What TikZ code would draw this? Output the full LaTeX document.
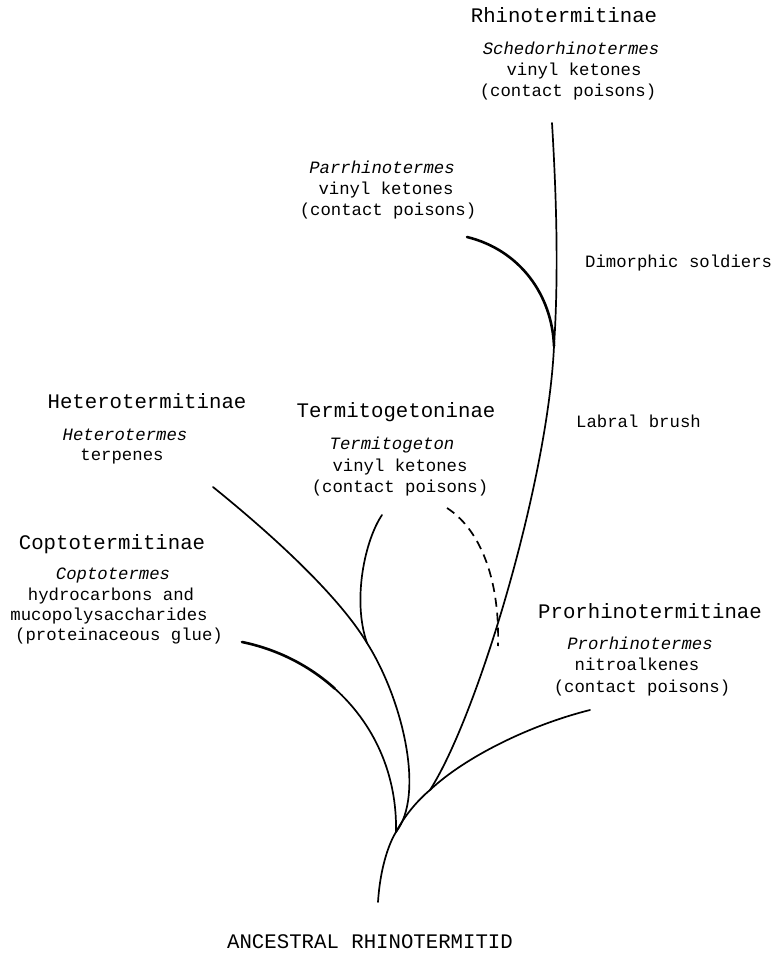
\documentclass[tikz,border=0pt]{standalone}
\usepackage{fontspec}
\setmainfont{Liberation Mono}
\begin{document}
\begin{tikzpicture}[x=1pt,y=-1pt,
  subfam/.style={font=\fontsize{20.7}{24}\selectfont, anchor=base, inner sep=0pt},
  chem/.style={font=\fontsize{17.3}{21}\selectfont, anchor=base, inner sep=0pt},
  genus/.style={font=\fontsize{17.3}{21}\selectfont\itshape, anchor=base, inner sep=0pt},
  branch/.style={line width=1.7pt, line cap=round},
  heavy/.style={line width=2.6pt, line cap=round},
  lost/.style={line width=1.7pt, dash pattern=on 9pt off 6pt}]
\useasboundingbox (0,0) rectangle (775,955);

% branch points and tips
\coordinate (root) at (378,902);
\coordinate (J) at (396,832);
\coordinate (M) at (430,790);
\coordinate (K) at (554,346);
\coordinate (rhTop) at (552,123);
\coordinate (parEnd) at (467,237);
\coordinate (proEnd) at (590,710);
\coordinate (hetEnd) at (213,487);
\coordinate (H1) at (367,643);
\coordinate (termEnd) at (382,515);
\coordinate (dashTop) at (447,508);
\coordinate (dashBot) at (498,646);
\coordinate (copEnd) at (242,642);
\coordinate (copMid) at (334.8,688.6);

% the tree
\draw[branch] (root) .. controls (380,870) and (388,845) .. (J)
                     .. controls (405,815) and (418,800) .. (M);
\draw[branch] (M) .. controls (478,715) and (548,480) .. (K)
                  .. controls (559,270) and (556,190) .. (rhTop);
\draw[heavy] (parEnd) .. controls (520,250) and (552,295) .. (K);
\draw[branch] (M) .. controls (465,757) and (530,725) .. (proEnd);
\draw[branch] (hetEnd) .. controls (260,525) and (335,590) .. (H1)
                       .. controls (403,700) and (425,795) .. (J);
\draw[branch] (termEnd) .. controls (365,540) and (352,600) .. (H1);
\draw[heavy] (copEnd) .. controls (277.2,649.2) and (309.2,665.5) .. (copMid);
\draw[branch] (copMid) .. controls (373.2,723.2) and (397.2,773) .. (J);
\draw[lost] (dashTop) .. controls (478,528) and (500,575) .. (dashBot);

% Rhinotermitinae
\node[subfam] (rhT) at (564,23) {Rhinotermitinae};
\node[genus] (rh1) at (571,55) {Schedorhinotermes};
\node[chem] (rh2) at (574,76) {vinyl ketones};
\node[chem] (rh3) at (568,97) {(contact poisons)};

% Parrhinotermes
\node[genus] (pa1) at (382,173) {Parrhinotermes};
\node[chem] (pa2) at (386,194) {vinyl ketones};
\node[chem] (pa3) at (388,215) {(contact poisons)};

% characters
\node[chem, anchor=base west] (dimo) at (585,267) {Dimorphic soldiers};
\node[chem, anchor=base west] (labr) at (576,427) {Labral brush};

% Heterotermitinae
\node[subfam] (heT) at (147,408) {Heterotermitinae};
\node[genus] (he1) at (125,440) {Heterotermes};
\node[chem] (he2) at (122,460) {terpenes};

% Termitogetoninae
\node[subfam] (teT) at (396,417) {Termitogetoninae};
\node[genus] (te1) at (392,449) {Termitogeton};
\node[chem] (te2) at (400,471) {vinyl ketones};
\node[chem] (te3) at (400,492) {(contact poisons)};

% Coptotermitinae
\node[subfam] (coT) at (112,549) {Coptotermitinae};
\node[genus] (co1) at (113,579) {Coptotermes};
\node[chem] (co2) at (111,600) {hydrocarbons and};
\node[chem] (co3) at (109,620) {mucopolysaccharides};
\node[chem] (co4) at (119,640) {(proteinaceous glue)};

% Prorhinotermitinae
\node[subfam] (prT) at (650,618) {Prorhinotermitinae};
\node[genus] (pr1) at (640,649) {Prorhinotermes};
\node[chem] (pr2) at (637,670) {nitroalkenes};
\node[chem] (pr3) at (642,692) {(contact poisons)};

% base of the tree
\node[subfam] (anc) at (370,948) {ANCESTRAL RHINOTERMITID};
\end{tikzpicture}
\end{document}
